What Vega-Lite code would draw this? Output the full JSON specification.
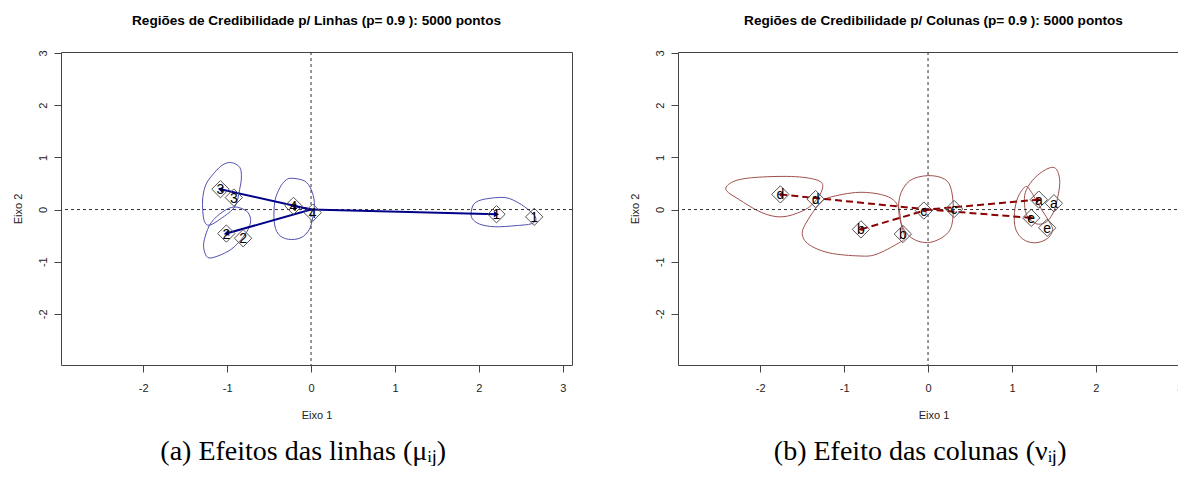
{
  "$schema": "https://vega.github.io/schema/vega-lite/v6.json",
  "background": "white",
  "padding": {"left": 11, "top": 13, "right": 0, "bottom": 0},
  "spacing": 55,
  "datasets": {
    "regioes_linhas": [
      {"efeito": "1", "k": 1, "x": 1.91, "y": -0.03}, {"efeito": "1", "k": 2, "x": 1.95, "y": 0.12}, {"efeito": "1", "k": 3, "x": 2.07, "y": 0.20}, {"efeito": "1", "k": 4, "x": 2.31, "y": 0.23}, {"efeito": "1", "k": 5, "x": 2.47, "y": 0.13}, {"efeito": "1", "k": 6, "x": 2.61, "y": -0.03}, {"efeito": "1", "k": 7, "x": 2.68, "y": -0.17}, {"efeito": "1", "k": 8, "x": 2.63, "y": -0.27}, {"efeito": "1", "k": 9, "x": 2.43, "y": -0.31}, {"efeito": "1", "k": 10, "x": 2.19, "y": -0.33}, {"efeito": "1", "k": 11, "x": 2.01, "y": -0.28}, {"efeito": "1", "k": 12, "x": 1.92, "y": -0.17},
      {"efeito": "2", "k": 1, "x": -0.91, "y": 0.05}, {"efeito": "2", "k": 2, "x": -0.77, "y": -0.03}, {"efeito": "2", "k": 3, "x": -0.72, "y": -0.19}, {"efeito": "2", "k": 4, "x": -0.75, "y": -0.38}, {"efeito": "2", "k": 5, "x": -0.83, "y": -0.57}, {"efeito": "2", "k": 6, "x": -0.95, "y": -0.76}, {"efeito": "2", "k": 7, "x": -1.11, "y": -0.89}, {"efeito": "2", "k": 8, "x": -1.23, "y": -0.92}, {"efeito": "2", "k": 9, "x": -1.28, "y": -0.73}, {"efeito": "2", "k": 10, "x": -1.26, "y": -0.51}, {"efeito": "2", "k": 11, "x": -1.19, "y": -0.25}, {"efeito": "2", "k": 12, "x": -1.05, "y": -0.04},
      {"efeito": "3", "k": 1, "x": -0.95, "y": 0.90}, {"efeito": "3", "k": 2, "x": -0.85, "y": 0.81}, {"efeito": "3", "k": 3, "x": -0.83, "y": 0.62}, {"efeito": "3", "k": 4, "x": -0.85, "y": 0.39}, {"efeito": "3", "k": 5, "x": -0.88, "y": 0.17}, {"efeito": "3", "k": 6, "x": -0.93, "y": 0.01}, {"efeito": "3", "k": 7, "x": -1.07, "y": -0.17}, {"efeito": "3", "k": 8, "x": -1.21, "y": -0.30}, {"efeito": "3", "k": 9, "x": -1.27, "y": -0.23}, {"efeito": "3", "k": 10, "x": -1.29, "y": -0.03}, {"efeito": "3", "k": 11, "x": -1.29, "y": 0.23}, {"efeito": "3", "k": 12, "x": -1.25, "y": 0.49}, {"efeito": "3", "k": 13, "x": -1.15, "y": 0.71}, {"efeito": "3", "k": 14, "x": -1.05, "y": 0.86},
      {"efeito": "4", "k": 1, "x": -0.24, "y": 0.60}, {"efeito": "4", "k": 2, "x": -0.08, "y": 0.55}, {"efeito": "4", "k": 3, "x": 0.00, "y": 0.39}, {"efeito": "4", "k": 4, "x": 0.04, "y": 0.13}, {"efeito": "4", "k": 5, "x": 0.02, "y": -0.15}, {"efeito": "4", "k": 6, "x": -0.02, "y": -0.38}, {"efeito": "4", "k": 7, "x": -0.12, "y": -0.54}, {"efeito": "4", "k": 8, "x": -0.27, "y": -0.57}, {"efeito": "4", "k": 9, "x": -0.39, "y": -0.47}, {"efeito": "4", "k": 10, "x": -0.44, "y": -0.22}, {"efeito": "4", "k": 11, "x": -0.43, "y": 0.17}, {"efeito": "4", "k": 12, "x": -0.37, "y": 0.42}, {"efeito": "4", "k": 13, "x": -0.31, "y": 0.55}
    ],
    "pontos_linhas": [
      {"efeito": "1", "seta": true, "x": 2.21, "y": -0.09},
      {"efeito": "2", "seta": true, "x": -1.01, "y": -0.46},
      {"efeito": "3", "seta": true, "x": -1.08, "y": 0.39},
      {"efeito": "4", "seta": true, "x": -0.21, "y": 0.07},
      {"efeito": "1", "seta": false, "x": 2.66, "y": -0.14},
      {"efeito": "2", "seta": false, "x": -0.81, "y": -0.55},
      {"efeito": "3", "seta": false, "x": -0.92, "y": 0.23},
      {"efeito": "4", "seta": false, "x": 0.02, "y": -0.06}
    ],
    "regioes_colunas": [
      {"efeito": "a", "k": 1, "x": 1.485, "y": 0.81}, {"efeito": "a", "k": 2, "x": 1.545, "y": 0.73}, {"efeito": "a", "k": 3, "x": 1.57, "y": 0.52}, {"efeito": "a", "k": 4, "x": 1.545, "y": 0.23}, {"efeito": "a", "k": 5, "x": 1.50, "y": -0.03}, {"efeito": "a", "k": 6, "x": 1.43, "y": -0.21}, {"efeito": "a", "k": 7, "x": 1.34, "y": -0.28}, {"efeito": "a", "k": 8, "x": 1.26, "y": -0.25}, {"efeito": "a", "k": 9, "x": 1.18, "y": -0.12}, {"efeito": "a", "k": 10, "x": 1.15, "y": 0.10}, {"efeito": "a", "k": 11, "x": 1.16, "y": 0.33}, {"efeito": "a", "k": 12, "x": 1.24, "y": 0.55}, {"efeito": "a", "k": 13, "x": 1.365, "y": 0.73},
      {"efeito": "b", "k": 1, "x": -1.44, "y": -0.22}, {"efeito": "b", "k": 2, "x": -1.30, "y": 0.10}, {"efeito": "b", "k": 3, "x": -1.18, "y": 0.23}, {"efeito": "b", "k": 4, "x": -0.82, "y": 0.33}, {"efeito": "b", "k": 5, "x": -0.50, "y": 0.26}, {"efeito": "b", "k": 6, "x": -0.36, "y": 0.07}, {"efeito": "b", "k": 7, "x": -0.32, "y": -0.28}, {"efeito": "b", "k": 8, "x": -0.28, "y": -0.54}, {"efeito": "b", "k": 9, "x": -0.36, "y": -0.65}, {"efeito": "b", "k": 10, "x": -0.62, "y": -0.86}, {"efeito": "b", "k": 11, "x": -0.82, "y": -0.89}, {"efeito": "b", "k": 12, "x": -1.18, "y": -0.83}, {"efeito": "b", "k": 13, "x": -1.42, "y": -0.67}, {"efeito": "b", "k": 14, "x": -1.50, "y": -0.46},
      {"efeito": "c", "k": 1, "x": 0.00, "y": 0.65}, {"efeito": "c", "k": 2, "x": 0.20, "y": 0.58}, {"efeito": "c", "k": 3, "x": 0.28, "y": 0.36}, {"efeito": "c", "k": 4, "x": 0.30, "y": -0.09}, {"efeito": "c", "k": 5, "x": 0.24, "y": -0.44}, {"efeito": "c", "k": 6, "x": 0.02, "y": -0.63}, {"efeito": "c", "k": 7, "x": -0.20, "y": -0.54}, {"efeito": "c", "k": 8, "x": -0.33, "y": -0.22}, {"efeito": "c", "k": 9, "x": -0.34, "y": 0.23}, {"efeito": "c", "k": 10, "x": -0.22, "y": 0.55},
      {"efeito": "d", "k": 1, "x": -2.41, "y": 0.39}, {"efeito": "d", "k": 2, "x": -2.26, "y": 0.20}, {"efeito": "d", "k": 3, "x": -1.98, "y": -0.06}, {"efeito": "d", "k": 4, "x": -1.74, "y": -0.14}, {"efeito": "d", "k": 5, "x": -1.50, "y": -0.03}, {"efeito": "d", "k": 6, "x": -1.36, "y": 0.13}, {"efeito": "d", "k": 7, "x": -1.26, "y": 0.39}, {"efeito": "d", "k": 8, "x": -1.30, "y": 0.55}, {"efeito": "d", "k": 9, "x": -1.58, "y": 0.63}, {"efeito": "d", "k": 10, "x": -2.02, "y": 0.62}, {"efeito": "d", "k": 11, "x": -2.30, "y": 0.55},
      {"efeito": "e", "k": 1, "x": 1.16, "y": 0.44}, {"efeito": "e", "k": 2, "x": 1.22, "y": 0.36}, {"efeito": "e", "k": 3, "x": 1.28, "y": 0.20}, {"efeito": "e", "k": 4, "x": 1.365, "y": -0.03}, {"efeito": "e", "k": 5, "x": 1.44, "y": -0.22}, {"efeito": "e", "k": 6, "x": 1.485, "y": -0.38}, {"efeito": "e", "k": 7, "x": 1.44, "y": -0.53}, {"efeito": "e", "k": 8, "x": 1.34, "y": -0.62}, {"efeito": "e", "k": 9, "x": 1.22, "y": -0.63}, {"efeito": "e", "k": 10, "x": 1.11, "y": -0.54}, {"efeito": "e", "k": 11, "x": 1.04, "y": -0.35}, {"efeito": "e", "k": 12, "x": 1.03, "y": -0.06}, {"efeito": "e", "k": 13, "x": 1.07, "y": 0.23}
    ],
    "pontos_colunas": [
      {"efeito": "a", "seta": true, "x": 1.32, "y": 0.19},
      {"efeito": "b", "seta": true, "x": -0.80, "y": -0.38},
      {"efeito": "c", "seta": true, "x": -0.05, "y": -0.02},
      {"efeito": "d", "seta": true, "x": -1.76, "y": 0.29},
      {"efeito": "e", "seta": true, "x": 1.23, "y": -0.16},
      {"efeito": "a", "seta": false, "x": 1.50, "y": 0.12},
      {"efeito": "b", "seta": false, "x": -0.30, "y": -0.47},
      {"efeito": "c", "seta": false, "x": 0.31, "y": 0.01},
      {"efeito": "d", "seta": false, "x": -1.34, "y": 0.20},
      {"efeito": "e", "seta": false, "x": 1.42, "y": -0.35}
    ],
    "origem": [{"x": 0, "y": 0}]
  },
  "config": {
    "view": {"stroke": "#444", "strokeWidth": 1},
    "axis": {
      "grid": false,
      "domain": false,
      "tickColor": "#444",
      "tickSize": 7,
      "labelFont": "Liberation Sans",
      "labelFontSize": 11,
      "labelColor": "#222",
      "labelExpr": "'' + datum.value",
      "titleFont": "Liberation Sans",
      "titleFontSize": 11,
      "titleFontWeight": "normal",
      "titleColor": "#222"
    },
    "axisX": {"labelPadding": 10, "titlePadding": 16, "labelFlush": false},
    "axisY": {"labelAngle": -90, "labelPadding": 6, "titlePadding": 14, "labelFlush": false},
    "title": {"anchor": "middle", "color": "black"}
  },
  "hconcat": [
    {
      "title": {"text": "(a) Efeitos das linhas (μᵢⱼ)", "orient": "bottom", "font": "Liberation Serif", "fontSize": 28, "fontWeight": "normal", "offset": 17, "dx": 11},
      "vconcat": [
        {
          "title": {"text": "Regiões de Credibilidade p/ Linhas (p= 0.9 ): 5000 pontos", "font": "Liberation Sans", "fontSize": 13.6, "fontWeight": "bold", "offset": 22},
          "width": 511,
          "height": 313,
          "layer": [
            {
              "data": {"name": "regioes_linhas"},
              "mark": {"type": "line", "interpolate": "cardinal-closed", "strokeWidth": 1, "color": "#5151b3"},
              "encoding": {
                "x": {"field": "x", "type": "quantitative", "scale": {"domain": [-2.98, 3.11], "nice": false, "zero": false}, "axis": {"title": "Eixo 1", "values": [-2, -1, 0, 1, 2, 3]}},
                "y": {"field": "y", "type": "quantitative", "scale": {"domain": [-2.98, 3.02], "nice": false, "zero": false}, "axis": {"title": "Eixo 2", "values": [-2, -1, 0, 1, 2, 3]}},
                "detail": {"field": "efeito"},
                "order": {"field": "k"}
              }
            },
            {
              "data": {"name": "origem"},
              "mark": {"type": "rule", "strokeDash": [3, 3], "color": "#333", "strokeWidth": 1},
              "encoding": {"x": {"field": "x", "type": "quantitative"}}
            },
            {
              "data": {"name": "origem"},
              "mark": {"type": "rule", "strokeDash": [3, 3], "color": "#333", "strokeWidth": 1},
              "encoding": {"y": {"field": "y", "type": "quantitative"}}
            },
            {
              "data": {"name": "pontos_linhas"},
              "transform": [{"filter": "datum.seta"}],
              "mark": {"type": "rule", "color": "#00008b", "strokeWidth": 2},
              "encoding": {
                "x": {"field": "x", "type": "quantitative"},
                "y": {"field": "y", "type": "quantitative"},
                "x2": {"datum": 0},
                "y2": {"datum": 0}
              }
            },
            {
              "data": {"name": "pontos_linhas"},
              "transform": [{"filter": "datum.seta"}],
              "mark": {"type": "point", "shape": "triangle-right", "filled": true, "opacity": 1, "size": 36, "color": "#00008b"},
              "encoding": {
                "x": {"field": "x", "type": "quantitative"},
                "y": {"field": "y", "type": "quantitative"},
                "angle": {
                  "condition": [
                    {"test": "datum.efeito === '1'", "value": 1.5},
                    {"test": "datum.efeito === '2'", "value": 164},
                    {"test": "datum.efeito === '3'", "value": 192.6},
                    {"test": "datum.efeito === '4'", "value": 191.6}
                  ],
                  "value": 0
                }
              }
            },
            {
              "data": {"name": "pontos_linhas"},
              "mark": {"type": "point", "shape": "diamond", "filled": false, "opacity": 1, "size": 300, "stroke": "#555", "strokeWidth": 1},
              "encoding": {
                "x": {"field": "x", "type": "quantitative"},
                "y": {"field": "y", "type": "quantitative"}
              }
            },
            {
              "data": {"name": "pontos_linhas"},
              "mark": {"type": "text", "font": "Liberation Sans", "fontSize": 14, "color": "black", "align": "center", "baseline": "middle", "dy": 1},
              "encoding": {
                "x": {"field": "x", "type": "quantitative"},
                "y": {"field": "y", "type": "quantitative"},
                "text": {"field": "efeito"}
              }
            }
          ]
        }
      ]
    },
    {
      "title": {"text": "(b) Efeito das colunas (νᵢⱼ)", "orient": "bottom", "font": "Liberation Serif", "fontSize": 28, "fontWeight": "normal", "offset": 17, "dx": 11},
      "vconcat": [
        {
          "title": {"text": "Regiões de Credibilidade p/ Colunas (p= 0.9 ): 5000 pontos", "font": "Liberation Sans", "fontSize": 13.6, "fontWeight": "bold", "offset": 22},
          "width": 511,
          "height": 313,
          "layer": [
            {
              "data": {"name": "regioes_colunas"},
              "mark": {"type": "line", "interpolate": "cardinal-closed", "strokeWidth": 1, "color": "#a0504c"},
              "encoding": {
                "x": {"field": "x", "type": "quantitative", "scale": {"domain": [-2.98, 3.11], "nice": false, "zero": false}, "axis": {"title": "Eixo 1", "values": [-2, -1, 0, 1, 2, 3]}},
                "y": {"field": "y", "type": "quantitative", "scale": {"domain": [-2.98, 3.02], "nice": false, "zero": false}, "axis": {"title": "Eixo 2", "values": [-2, -1, 0, 1, 2, 3]}},
                "detail": {"field": "efeito"},
                "order": {"field": "k"}
              }
            },
            {
              "data": {"name": "origem"},
              "mark": {"type": "rule", "strokeDash": [3, 3], "color": "#333", "strokeWidth": 1},
              "encoding": {"x": {"field": "x", "type": "quantitative"}}
            },
            {
              "data": {"name": "origem"},
              "mark": {"type": "rule", "strokeDash": [3, 3], "color": "#333", "strokeWidth": 1},
              "encoding": {"y": {"field": "y", "type": "quantitative"}}
            },
            {
              "data": {"name": "pontos_colunas"},
              "transform": [{"filter": "datum.seta"}],
              "mark": {"type": "rule", "color": "#8b0000", "strokeWidth": 2, "strokeDash": [7, 4]},
              "encoding": {
                "x": {"field": "x", "type": "quantitative"},
                "y": {"field": "y", "type": "quantitative"},
                "x2": {"datum": 0},
                "y2": {"datum": 0}
              }
            },
            {
              "data": {"name": "pontos_colunas"},
              "transform": [{"filter": "datum.seta"}],
              "mark": {"type": "point", "shape": "triangle-right", "filled": true, "opacity": 1, "size": 30, "color": "#8b0000"},
              "encoding": {
                "x": {"field": "x", "type": "quantitative"},
                "y": {"field": "y", "type": "quantitative"},
                "angle": {
                  "condition": [
                    {"test": "datum.efeito === 'a'", "value": 354.6},
                    {"test": "datum.efeito === 'b'", "value": 163.4},
                    {"test": "datum.efeito === 'c'", "value": 166.6},
                    {"test": "datum.efeito === 'd'", "value": 185.9},
                    {"test": "datum.efeito === 'e'", "value": 4.9}
                  ],
                  "value": 0
                }
              }
            },
            {
              "data": {"name": "pontos_colunas"},
              "mark": {"type": "point", "shape": "diamond", "filled": false, "opacity": 1, "size": 300, "stroke": "#555", "strokeWidth": 1},
              "encoding": {
                "x": {"field": "x", "type": "quantitative"},
                "y": {"field": "y", "type": "quantitative"}
              }
            },
            {
              "data": {"name": "pontos_colunas"},
              "mark": {"type": "text", "font": "Liberation Sans", "fontSize": 14, "color": "black", "align": "center", "baseline": "middle", "dy": 1},
              "encoding": {
                "x": {"field": "x", "type": "quantitative"},
                "y": {"field": "y", "type": "quantitative"},
                "text": {"field": "efeito"}
              }
            }
          ]
        }
      ]
    }
  ]
}
